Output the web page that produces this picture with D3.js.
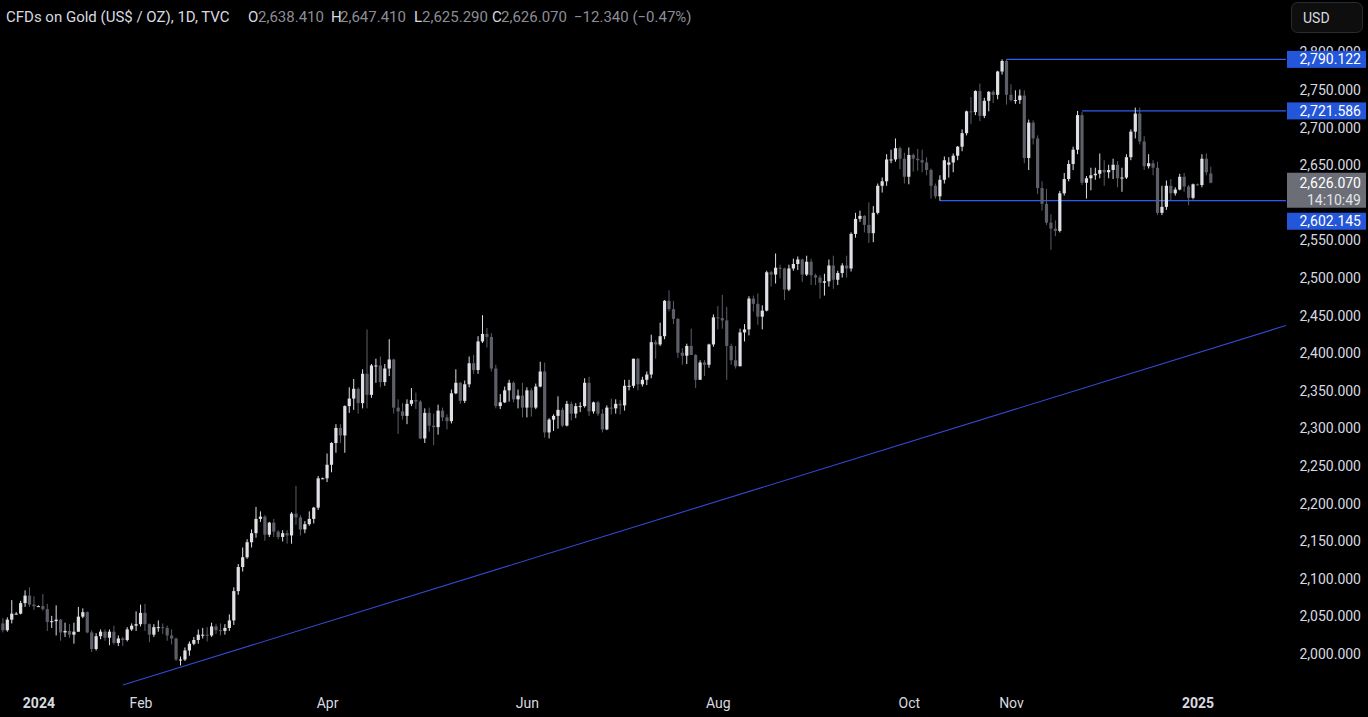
<!DOCTYPE html>
<html><head><meta charset="utf-8">
<script src="https://cdn.jsdelivr.net/npm/d3@7"></script>
<style>
html,body{margin:0;padding:0;background:#000;overflow:hidden}
svg{display:block}
text{font-family:Roboto,"Noto Sans",sans-serif}
</style></head><body>
<svg id="c" width="1368" height="717"></svg>
<script>
// ---------- DATA ----------
const dates = [
"2023-12-19","2023-12-20","2023-12-21","2023-12-22","2023-12-25","2023-12-26","2023-12-27","2023-12-28","2023-12-29",
"2024-01-01","2024-01-02","2024-01-03","2024-01-04","2024-01-05","2024-01-08","2024-01-09","2024-01-10","2024-01-11","2024-01-12","2024-01-15","2024-01-16","2024-01-17","2024-01-18","2024-01-19","2024-01-22","2024-01-23","2024-01-24","2024-01-25","2024-01-26","2024-01-29","2024-01-30","2024-01-31",
"2024-02-01","2024-02-02","2024-02-05","2024-02-06","2024-02-07","2024-02-08","2024-02-09","2024-02-12","2024-02-13","2024-02-14","2024-02-15","2024-02-16","2024-02-19","2024-02-20","2024-02-21","2024-02-22","2024-02-23","2024-02-26","2024-02-27","2024-02-28","2024-02-29",
"2024-03-01","2024-03-04","2024-03-05","2024-03-06","2024-03-07","2024-03-08","2024-03-11","2024-03-12","2024-03-13","2024-03-14","2024-03-15","2024-03-18","2024-03-19","2024-03-20","2024-03-21","2024-03-22","2024-03-25","2024-03-26","2024-03-27","2024-03-28","2024-03-29",
"2024-04-01","2024-04-02","2024-04-03","2024-04-04","2024-04-05","2024-04-08","2024-04-09","2024-04-10","2024-04-11","2024-04-12","2024-04-15","2024-04-16","2024-04-17","2024-04-18","2024-04-19","2024-04-22","2024-04-23","2024-04-24","2024-04-25","2024-04-26","2024-04-29","2024-04-30",
"2024-05-01","2024-05-02","2024-05-03","2024-05-06","2024-05-07","2024-05-08","2024-05-09","2024-05-10","2024-05-13","2024-05-14","2024-05-15","2024-05-16","2024-05-17","2024-05-20","2024-05-21","2024-05-22","2024-05-23","2024-05-24","2024-05-27","2024-05-28","2024-05-29","2024-05-30","2024-05-31",
"2024-06-03","2024-06-04","2024-06-05","2024-06-06","2024-06-07","2024-06-10","2024-06-11","2024-06-12","2024-06-13","2024-06-14","2024-06-17","2024-06-18","2024-06-19","2024-06-20","2024-06-21","2024-06-24","2024-06-25","2024-06-26","2024-06-27","2024-06-28",
"2024-07-01","2024-07-02","2024-07-03","2024-07-04","2024-07-05","2024-07-08","2024-07-09","2024-07-10","2024-07-11","2024-07-12","2024-07-15","2024-07-16","2024-07-17","2024-07-18","2024-07-19","2024-07-22","2024-07-23","2024-07-24","2024-07-25","2024-07-26","2024-07-29","2024-07-30","2024-07-31",
"2024-08-01","2024-08-02","2024-08-05","2024-08-06","2024-08-07","2024-08-08","2024-08-09","2024-08-12","2024-08-13","2024-08-14","2024-08-15","2024-08-16","2024-08-19","2024-08-20","2024-08-21","2024-08-22","2024-08-23","2024-08-26","2024-08-27","2024-08-28","2024-08-29","2024-08-30",
"2024-09-02","2024-09-03","2024-09-04","2024-09-05","2024-09-06","2024-09-09","2024-09-10","2024-09-11","2024-09-12","2024-09-13","2024-09-16","2024-09-17","2024-09-18","2024-09-19","2024-09-20","2024-09-23","2024-09-24","2024-09-25","2024-09-26","2024-09-27","2024-09-30",
"2024-10-01","2024-10-02","2024-10-03","2024-10-04","2024-10-07","2024-10-08","2024-10-09","2024-10-10","2024-10-11","2024-10-14","2024-10-15","2024-10-16","2024-10-17","2024-10-18","2024-10-21","2024-10-22","2024-10-23","2024-10-24","2024-10-25","2024-10-28","2024-10-29","2024-10-30","2024-10-31",
"2024-11-01","2024-11-04","2024-11-05","2024-11-06","2024-11-07","2024-11-08","2024-11-11","2024-11-12","2024-11-13","2024-11-14","2024-11-15","2024-11-18","2024-11-19","2024-11-20","2024-11-21","2024-11-22","2024-11-25","2024-11-26","2024-11-27","2024-11-28","2024-11-29",
"2024-12-02","2024-12-03","2024-12-04","2024-12-05","2024-12-06","2024-12-09","2024-12-10","2024-12-11","2024-12-12","2024-12-13","2024-12-16","2024-12-17","2024-12-18","2024-12-19","2024-12-20","2024-12-23","2024-12-24","2024-12-26","2024-12-27","2024-12-30","2024-12-31",
"2025-01-01","2025-01-02","2025-01-03","2025-01-06"
];
const open = [
2027,2040,2031,2045,2053,2053,2067,2077,2065,
2063,2063,2059,2042,2043,2045,2028,2030,2025,2029,2049,2055,2028,2006,2023,2029,2021,2029,2014,2020,2018,2032,2037,
2039,2054,2039,2025,2035,2035,2034,2024,2020,1992,1992,2004,2013,2018,2025,2025,2024,2036,2031,2030,2034,
2044,2083,2115,2128,2148,2160,2179,2182,2158,2174,2162,2155,2160,2157,2186,2181,2165,2172,2179,2194,2233,
2233,2251,2280,2300,2290,2329,2339,2352,2333,2372,2344,2383,2383,2361,2379,2391,2327,2322,2316,2332,2337,2335,
2286,2320,2303,2301,2323,2314,2309,2346,2360,2336,2358,2386,2377,2415,2425,2421,2379,2329,2334,2350,2360,2338,2343,
2327,2350,2327,2355,2375,2294,2311,2316,2324,2303,2332,2319,2329,2329,2360,2322,2334,2319,2298,2327,
2326,2332,2330,2356,2356,2392,2358,2364,2371,2414,2411,2422,2469,2458,2445,2400,2396,2409,2397,2364,2387,2384,2411,
2447,2446,2443,2409,2390,2382,2427,2431,2472,2465,2448,2456,2507,2504,2513,2512,2484,2512,2518,2524,2504,2521,
2503,2500,2493,2495,2516,2497,2506,2516,2512,2558,2578,2582,2570,2559,2586,2622,2628,2657,2657,2672,2658,
2634,2663,2658,2656,2653,2643,2622,2608,2630,2650,2653,2662,2674,2692,2721,2720,2748,2715,2735,2747,2743,2774,2788,
2743,2736,2736,2742,2659,2706,2685,2619,2598,2573,2565,2562,2612,2631,2651,2670,2716,2626,2632,2636,2638,
2643,2640,2643,2650,2632,2633,2660,2694,2718,2681,2648,2652,2646,2586,2594,2622,2612,2617,2634,2621,2606,
2624,2623,2658,2638.41
];
const high = [
2047,2047,2048,2071,2055,2070,2084,2088,2076,
2064,2079,2066,2050,2064,2046,2041,2039,2041,2062,2060,2056,2031,2027,2032,2032,2032,2037,2024,2022,2035,2040,2056,
2065,2066,2040,2039,2044,2040,2037,2032,2021,1996,2008,2016,2022,2032,2034,2035,2041,2039,2040,2039,2052,
2088,2119,2141,2152,2165,2195,2189,2184,2175,2179,2164,2164,2164,2188,2223,2184,2176,2189,2195,2236,2234,
2266,2281,2305,2305,2330,2354,2365,2354,2378,2431,2385,2392,2395,2385,2418,2392,2338,2333,2338,2353,2347,2337,
2326,2327,2319,2331,2327,2318,2351,2378,2361,2363,2395,2397,2422,2450,2433,2426,2384,2345,2355,2364,2362,2351,2360,
2354,2353,2359,2388,2387,2313,2318,2342,2327,2336,2335,2333,2334,2366,2368,2335,2336,2325,2330,2339,
2338,2337,2364,2364,2392,2393,2368,2375,2424,2417,2440,2470,2483,2469,2446,2406,2412,2432,2398,2390,2390,2412,2451,
2462,2477,2461,2412,2409,2432,2438,2475,2476,2479,2463,2509,2509,2532,2517,2513,2517,2525,2528,2525,2529,2525,
2505,2503,2505,2524,2529,2509,2519,2529,2560,2586,2589,2583,2600,2595,2625,2633,2664,2670,2685,2674,2666,
2673,2665,2671,2670,2660,2645,2625,2636,2661,2660,2665,2675,2697,2722,2740,2749,2758,2739,2748,2749,2775,2790.122,2790,
2757,2749,2750,2749,2710,2709,2689,2628,2618,2584,2576,2615,2639,2656,2674,2721.586,2720,2635,2646,2646,2665,
2656,2650,2658,2655,2646,2664,2697,2726,2726,2688,2664,2656,2654,2622,2629,2631,2620,2638,2639,2623,2625,
2625,2664,2665,2647.41
];
const low = [
2021,2028,2029,2040,2052,2052,2062,2062,2058,
2062,2057,2030,2034,2024,2017,2022,2021,2013,2029,2047,2027,2002,2004,2019,2017,2011,2012,2010,2010,2016,2030,2030,
2036,2030,2015,2022,2029,2026,2017,2012,1990,1984,1990,1997,2011,2013,2020,2016,2022,2026,2024,2025,2030,
2038,2078,2109,2126,2141,2154,2175,2150,2155,2155,2152,2149,2146,2146,2171,2157,2160,2170,2173,2191,2232,
2228,2241,2267,2280,2267,2320,2324,2319,2326,2326,2340,2360,2354,2356,2369,2319,2292,2311,2305,2329,2325,2285,
2280,2295,2277,2291,2309,2298,2306,2345,2332,2333,2354,2372,2372,2413,2407,2375,2326,2325,2333,2335,2334,2326,2314,
2314,2315,2325,2354,2287,2286,2296,2299,2301,2302,2310,2313,2321,2327,2316,2319,2316,2294,2297,2318,
2319,2318,2323,2350,2353,2350,2355,2357,2366,2392,2409,2418,2455,2438,2393,2384,2385,2397,2353,2364,2369,2380,2408,
2431,2432,2364,2384,2379,2382,2415,2423,2455,2437,2431,2455,2488,2492,2499,2470,2482,2509,2510,2494,2502,2490,
2490,2472,2476,2488,2485,2490,2500,2500,2508,2553,2574,2560,2546,2547,2584,2613,2622,2652,2654,2644,2625,
2624,2641,2642,2640,2636,2605,2605,2602.145,2625,2633,2640,2656,2668,2689,2704,2716,2708,2712,2721,2732,2737,2770,2730,
2734,2731,2731,2652,2643,2677,2611,2589,2570,2537,2555,2560,2609,2628,2643,2664,2623,2605,2616,2630,2632,
2622,2632,2631,2620,2614,2631,2656,2685,2677,2643,2645,2636,2583,2583,2590,2603,2609,2616,2614,2596,2604,
2622,2620,2636,2625.29
];
const close = [
2040,2031,2045,2053,2053,2067,2077,2065,2063,
2063,2059,2042,2043,2045,2028,2030,2025,2029,2049,2055,2028,2006,2023,2029,2021,2029,2014,2020,2018,2032,2037,2039,
2054,2039,2025,2035,2035,2034,2024,2020,1992,1992,2004,2013,2018,2025,2025,2024,2036,2031,2030,2034,2044,
2083,2115,2128,2148,2160,2179,2182,2158,2174,2162,2155,2160,2157,2186,2181,2165,2172,2179,2194,2233,2233,
2251,2280,2300,2290,2329,2339,2352,2333,2372,2344,2383,2383,2361,2379,2391,2327,2322,2316,2332,2337,2335,2286,
2320,2303,2301,2323,2314,2309,2346,2360,2336,2358,2386,2377,2415,2425,2421,2379,2329,2334,2350,2360,2338,2343,2327,
2350,2327,2355,2375,2294,2311,2316,2324,2303,2332,2319,2329,2329,2360,2322,2334,2319,2298,2327,2326,
2332,2330,2356,2356,2392,2358,2364,2371,2414,2411,2422,2469,2458,2445,2400,2396,2409,2397,2364,2387,2384,2411,2447,
2446,2443,2409,2390,2382,2427,2431,2472,2465,2448,2456,2507,2504,2513,2512,2484,2512,2518,2524,2504,2521,2503,
2500,2493,2495,2516,2497,2506,2516,2512,2558,2578,2582,2570,2559,2586,2622,2628,2657,2657,2672,2658,2634,
2663,2658,2656,2653,2643,2622,2608,2630,2656,2653,2662,2674,2692,2721,2720,2748,2715,2735,2747,2743,2774,2788,2743,
2736,2736,2742,2659,2706,2685,2619,2598,2573,2565,2562,2612,2631,2651,2670,2716,2626,2632,2636,2638,2643,
2640,2643,2650,2632,2633,2660,2694,2718,2681,2648,2652,2646,2586,2594,2622,2612,2617,2634,2621,2606,2624,
2623,2658,2640,2626.07
];
// 2,600.000 is fully hidden behind the price labels in the reference, so it is not listed
const priceTicks = [2000,2050,2100,2150,2200,2250,2300,2350,2400,2450,2500,2550,2650,2700,2750,2800];
const timeTickDates = ["2024-01-01","2024-02-01","2024-04-01","2024-06-03","2024-08-01","2024-10-01","2024-11-01","2025-01-01"];
const timeTickLabels = ["2024","Feb","Apr","Jun","Aug","Oct","Nov","2025"];
const levelStarts = ["2024-10-31","2024-11-25","2024-10-10"];
const levelPrices = [2790.122, 2721.586, 2602.145];
const trendDates = ["2024-01-26","2024-12-31"];
const trendPrices = [1958, 2398];
const lastPrice = 2626.070;
const countdown = "14:10:49";
const headerTitle = "CFDs on Gold (US$ / OZ), 1D, TVC";
const headerOHLC = [["O","2,638.410"],["H","2,647.410"],["L","2,625.290"],["C","2,626.070"]];
const headerChange = "\u221212.340 (\u22120.47%)";

// ---------- CHART ----------
const W = 1368, H = 717, plotRight = 1286;
const UP = "#dfe0e5", DOWN = "#5c5f67", TXT = "#d8dae0", LVL = "#2f5cf0", TREND = "#3548d2", BOX = "#2356d9";
const svg = d3.select("#c");
svg.append("rect").attr("width",W).attr("height",H).attr("fill","#000");

const idx = new Map(dates.map((d,i)=>[d,i]));
const x = d3.scaleLinear().domain([idx.get("2024-01-01"), idx.get("2025-01-06")]).range([38.4, 1210.8]);
const y = d3.scaleLinear().domain([2000,2800]).range([653.5, 51.95]);

svg.append("clipPath").attr("id","plot").append("rect").attr("x",0).attr("y",0).attr("width",plotRight).attr("height",690);
const plot = svg.append("g").attr("clip-path","url(#plot)");

// trend line (extended to right edge)
const t0 = idx.get(trendDates[0]), t1 = idx.get(trendDates[1]);
const slope = (trendPrices[1]-trendPrices[0])/(t1-t0);
const tEnd = x.invert(plotRight);
plot.append("line")
  .attr("x1",x(t0)).attr("y1",y(trendPrices[0]))
  .attr("x2",x(tEnd)).attr("y2",y(trendPrices[0]+slope*(tEnd-t0)))
  .attr("stroke",TREND).attr("stroke-width",1.1);

// horizontal levels
levelPrices.forEach((p,k)=>{
  plot.append("line").attr("x1",x(idx.get(levelStarts[k]))).attr("x2",plotRight)
    .attr("y1",y(p)).attr("y2",y(p))
    .attr("stroke",LVL).attr("stroke-width",1.2);
});

// candles
const bars = d3.range(dates.length).map(i=>({i,o:open[i],h:high[i],l:low[i],c:close[i]}));
const cg = plot.append("g");
cg.selectAll("line.w").data(bars).join("line")
  .attr("x1",d=>x(d.i)).attr("x2",d=>x(d.i))
  .attr("y1",d=>y(d.h)).attr("y2",d=>y(d.l))
  .attr("stroke",d=>d.c>=d.o?UP:DOWN).attr("stroke-width",1);
cg.selectAll("rect.b").data(bars).join("rect")
  .attr("x",d=>x(d.i)-1.6).attr("width",3.2)
  .attr("y",d=>y(Math.max(d.o,d.c)))
  .attr("height",d=>Math.max(1,Math.abs(y(d.o)-y(d.c))))
  .attr("fill",d=>d.c>=d.o?UP:DOWN);

// price axis
const ax = svg.append("g").attr("transform","translate(1361,0)")
  .call(d3.axisLeft(y).tickValues(priceTicks).tickFormat(d3.format(",.3f")).tickSize(0).tickPadding(0));
ax.select(".domain").remove();
ax.selectAll("text").attr("fill",TXT).attr("font-size",14).attr("dy","0.36em").attr("font-family","Roboto");

// time axis
const tx = svg.append("g").attr("transform","translate(0,697)")
  .call(d3.axisBottom(x).tickValues(timeTickDates.map(d=>idx.get(d))).tickFormat((d,i)=>timeTickLabels[i]).tickSize(0).tickPadding(0));
tx.select(".domain").remove();
tx.selectAll("text").attr("fill",TXT).attr("font-size",14).attr("dy","0.76em").attr("font-family","Roboto")
  .attr("font-weight",(d,i)=>/^\d{4}$/.test(timeTickLabels[i])?"bold":"normal");

// right-side labels
const fmt = d3.format(",.3f");
const bx = 1287, bw = 79, bh = 17;
const cy = y(lastPrice);
const curTop = cy-10, curH = 35;
svg.append("rect").attr("x",bx).attr("y",curTop).attr("width",bw).attr("height",curH).attr("fill","#6b6e76");
svg.append("text").attr("x",1361).attr("y",cy).attr("dy","0.36em").attr("text-anchor","end")
  .attr("fill","#fff").attr("font-size",14).text(fmt(lastPrice));
svg.append("text").attr("x",1361).attr("y",cy+17).attr("dy","0.36em").attr("text-anchor","end")
  .attr("fill","#e4e4e8").attr("font-size",14).text(countdown);
levelPrices.forEach(p=>{
  let c = y(p);
  if (c+bh/2 > curTop && c-bh/2 < curTop+curH) c = (c > cy) ? curTop+curH+5+bh/2 : curTop-5-bh/2;
  svg.append("rect").attr("x",bx).attr("y",c-bh/2).attr("width",bw).attr("height",bh).attr("fill",BOX);
  svg.append("text").attr("x",1361).attr("y",c).attr("dy","0.36em").attr("text-anchor","end")
    .attr("fill","#fff").attr("font-size",14).text(fmt(p));
});

// USD button
svg.append("rect").attr("x",1291.5).attr("y",2.5).attr("width",71).attr("height",30).attr("rx",6)
  .attr("fill","#0e0e0e").attr("stroke","#2c2c2e");
svg.append("text").attr("x",1303).attr("y",18).attr("dy","0.36em").attr("fill",TXT).attr("font-size",14).text("USD");

// header
const hy = 17, hf = 15;
svg.append("text").attr("x",6).attr("y",hy).attr("dy","0.36em").attr("fill",TXT).attr("font-size",hf).text(headerTitle);
const hx = [[248,258],[331,340],[414,422],[492,501]];
headerOHLC.forEach((p,k)=>{
  svg.append("text").attr("x",hx[k][0]).attr("y",hy).attr("dy","0.36em").attr("fill",TXT).attr("font-size",hf).text(p[0]);
  svg.append("text").attr("x",hx[k][1]).attr("y",hy).attr("dy","0.36em").attr("fill","#8b8e96").attr("font-size",hf).text(p[1]);
});
svg.append("text").attr("x",574).attr("y",hy).attr("dy","0.36em").attr("fill","#8b8e96").attr("font-size",hf).text(headerChange);
</script>
</body></html>
